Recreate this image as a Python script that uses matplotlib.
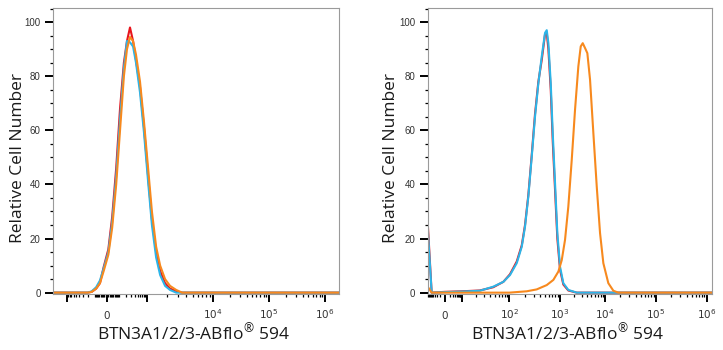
import numpy as np
import matplotlib
matplotlib.use('Agg')
import matplotlib.pyplot as plt

plt.rcParams['mathtext.fontset'] = 'custom'
plt.rcParams['mathtext.rm'] = 'Open Sans'

# left panel: isotype / unstained / stained all overlap
left_x = [-1760, -200, -140, -90, -55, -25, 10, 40, 75, 115, 165, 215, 275, 350, 440,
          600, 815, 1050, 1200, 1390, 1600, 1900, 2260, 2800, 3450, 1780000]
left_red = [0, 0, 0.3, 1.5, 3.5, 9.5, 16, 28, 46, 68, 85, 93, 98, 93, 86,
            76, 61, 43, 27, 15, 8, 3.5, 1.5, 0.5, 0, 0]
left_cyan = [0, 0, 0.5, 2, 4.5, 9, 15, 26, 43, 64, 83, 93, 92.5, 91, 85,
             74, 59, 41, 25, 13, 6.5, 2.5, 1, 0, 0, 0]
left_orange = [0, 0, 0.3, 1.5, 3.5, 8, 14, 24, 40, 60, 80, 90, 94.5, 93, 88,
               78, 63, 46, 30, 17, 10, 5, 2.5, 1, 0, 0]

# right panel
right_x = [-10, -5, 0, 10, 24, 46, 75, 103, 140, 176, 204, 237, 277, 321, 374, 436,
           506, 547, 589, 656, 718, 797, 885, 1000, 1184, 1527, 2350, 1290000]
right_red = [26, 0, 0.3, 0.5, 0.8, 2.0, 4, 6.8, 11.5, 17.5, 25, 36, 51, 66, 78, 86,
             95.5, 96, 90, 75, 56, 38, 20, 8.5, 3, 0.8, 0, 0]
right_cyan = [24, 0, 0.2, 0.4, 0.7, 2.2, 4, 6.5, 10.9, 17, 24.4, 35.5, 50.3, 65, 77.4, 87.3,
              96, 97, 92.2, 77.4, 59, 40.5, 22, 9.6, 3.5, 1, 0, 0]
right_ox = [-10, -5, 0, 100, 220, 347, 547, 738, 927, 1091, 1291, 1528, 1819, 2154, 2551,
            2884, 3195, 3594, 4045, 4642, 5500, 6541, 7743, 9165, 11600, 14560, 18250, 1290000]
right_orange = [2.2, 0, 0, 0, 0.5, 1.2, 2.8, 4.7, 7.8, 12, 19.5, 31.8, 49, 67.6, 83.6,
                91, 92.2, 90.4, 88.5, 78.7, 59, 39.2, 22, 10.9, 3.5, 0.7, 0, 0]

RED = '#e8141c'
CYAN = '#2cb5e8'
ORANGE = '#f7891e'
XLABEL = r'BTN3A1/2/3-ABflo$^{\mathregular{®}}$ 594'


# logicle-like axis: piecewise in asinh space between anchor values
def make_scale(c, vals, pos):
    a = np.arcsinh(np.asarray(vals, float) / c)
    p = np.asarray(pos, float)

    def fwd(x):
        return np.interp(np.arcsinh(np.asarray(x, float) / c), a, p)

    def inv(y):
        return c * np.sinh(np.interp(y, p, a))
    return fwd, inv


def decade_minors(lo, hi):
    out = []
    for e in range(lo, hi):
        out += [m * 10 ** e for m in range(2, 10)]
    return out


def style(ax, majors, labels, minors):
    ax.set_xticks(majors)
    ax.set_xticklabels(labels)
    ax.set_xticks(minors, minor=True)
    for t in ax.get_xticklabels():
        t.set_verticalalignment('baseline')
    ax.tick_params(axis='x', which='major', length=5.5, width=1.4, pad=12.5,
                   labelsize=7.5, labelcolor='#333333', direction='out')
    ax.tick_params(axis='x', which='minor', length=2.4, width=0.9, direction='out')
    ax.set_ylim(-0.5, 105.2)
    ax.set_yticks([0, 20, 40, 60, 80, 100])
    ax.set_yticks(np.arange(5, 106, 5), minor=True)
    ax.tick_params(axis='y', which='major', length=6, width=1.4, pad=3,
                   labelsize=7, labelcolor='#333333')
    ax.tick_params(axis='y', which='minor', length=2.2, width=0.9)
    for lab in ax.get_yticklabels():
        lab.set_family('Liberation Sans')
    for s in ax.spines.values():
        s.set_color('#9a9a9a')
        s.set_linewidth(0.8)
    ax.set_xlabel(XLABEL, fontsize=12.5, family='Open Sans', color='#1a1a1a')
    ax.set_ylabel('Relative Cell Number', fontsize=12.5, family='Open Sans', color='#1a1a1a')


fig = plt.figure(figsize=(7.23, 3.5), dpi=100)
ax1 = fig.add_axes([53 / 723, 56 / 350, 286 / 723, 286 / 350])
ax2 = fig.add_axes([427.7 / 723, 56 / 350, 284.6 / 723, 286 / 350])

f1 = make_scale(100, [-1e5, -1e4, -1e3, 0, 1e3, 1e4, 1e5, 1e6, 1e8],
                [-45, 10.7, 66.7, 107, 146.7, 212.7, 269, 325, 437])
ax1.set_xscale('function', functions=f1)
ax1.plot(left_x, left_red, color=RED, lw=1.5)
ax1.plot(left_x, left_cyan, color=CYAN, lw=1.5)
ax1.plot(left_x, left_orange, color=ORANGE, lw=1.5)
ax1.set_xlim(-1760, 1780000)
minors1 = sorted([-m for m in range(100, 1000, 100)] + [-m for m in range(10, 100, 10)]
                 + list(range(10, 100, 10)) + list(range(100, 1000, 100)) + decade_minors(3, 6))
style(ax1, [-1e3, 0, 1e3, 1e4, 1e5, 1e6],
      ['', '0', '', r'$\mathregular{10^4}$', r'$\mathregular{10^5}$', r'$\mathregular{10^6}$'],
      minors1)
ax1.yaxis.set_label_coords(-0.093, 0.477)
ax1.xaxis.set_label_coords(0.49, -0.098)

f2 = make_scale(1, [-1e3, -10, 0, 10, 100, 1e3, 1e4, 1e5, 1e6, 1e8],
                [380, 427.7, 445, 461.7, 509.3, 560, 605, 656, 706.7, 806.7])
ax2.set_xscale('function', functions=f2)
ax2.plot(right_x, right_red, color=RED, lw=1.5)
ax2.plot(right_x, right_cyan, color=CYAN, lw=1.5)
ax2.plot(right_ox, right_orange, color=ORANGE, lw=1.5)
ax2.set_xlim(-10, 1290000)
minors2 = sorted([-m for m in range(1, 10)] + list(range(1, 10)) + decade_minors(1, 6))
style(ax2, [0, 10, 100, 1e3, 1e4, 1e5, 1e6],
      ['0', '', r'$\mathregular{10^2}$', r'$\mathregular{10^3}$', r'$\mathregular{10^4}$',
       r'$\mathregular{10^5}$', r'$\mathregular{10^6}$'],
      minors2)
ax2.yaxis.set_label_coords(-0.1, 0.477)
ax2.xaxis.set_label_coords(0.49, -0.098)

fig.savefig('out.png', dpi=100)
